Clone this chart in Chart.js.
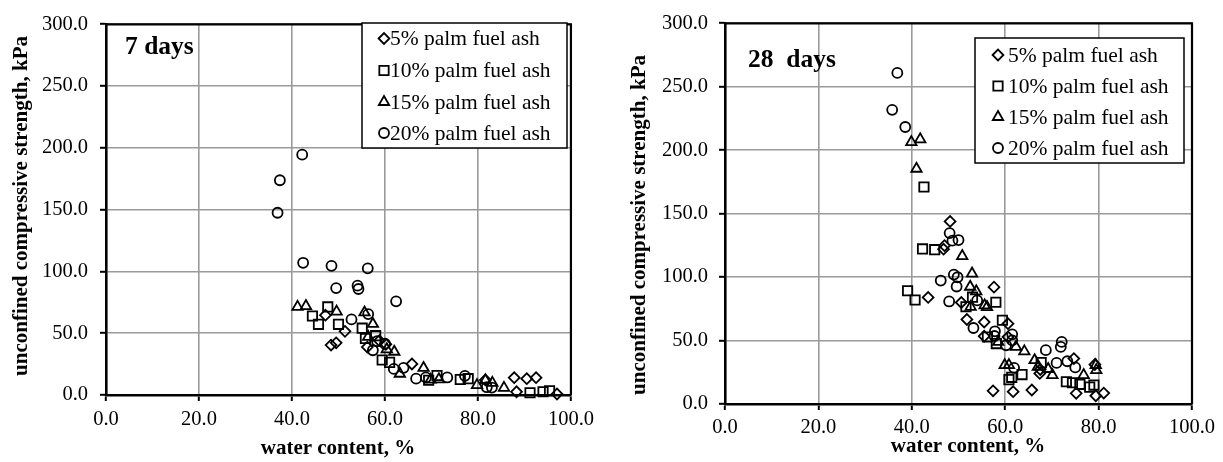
<!DOCTYPE html>
<html>
<head>
<meta charset="utf-8">
<script src="https://cdn.jsdelivr.net/npm/chart.js@4/dist/chart.umd.min.js"></script>
<style>
  html, body { margin: 0; padding: 0; background: #ffffff; }
  #wrap { position: relative; width: 1223px; height: 462px; overflow: hidden; }
  canvas { position: absolute; top: 0; }
  #c7 { left: 0; }
  #c28 { left: 600px; }
</style>
</head>
<body>
<div id="wrap">
  <canvas id="c7" width="600" height="462"></canvas>
  <canvas id="c28" width="623" height="462"></canvas>
</div>
<script>
// ---- series labels ----
const seriesNames = ['5% palm fuel ash', '10% palm fuel ash', '15% palm fuel ash', '20% palm fuel ash'];
const xTicks = [0, 20, 40, 60, 80, 100];
const yTicks = [0, 50, 100, 150, 200, 250, 300];

// ---- 7 days: water content (%) and unconfined compressive strength (kPa) ----
const wc5_7  = [47.2, 48.4, 49.5, 51.4, 56.2, 58.8, 60.2, 65.8, 81.6, 87.8, 88.3, 90.5, 92.5, 97.0];
const ucs5_7 = [64.6, 40.4, 42.2, 51.5, 38.8, 44.0, 41.0, 25.1, 12.2, 14.0, 2.6, 13.2, 14.0, 0.8];

const wc10_7  = [44.4, 45.7, 47.7, 50.0, 55.1, 55.8, 58.0, 59.4, 61.0, 69.4, 71.2, 76.2, 77.9, 91.2, 94.0, 95.4];
const ucs10_7 = [63.9, 57.2, 71.3, 57.2, 54.1, 45.7, 48.0, 28.3, 26.4, 11.9, 15.8, 12.5, 13.2, 1.8, 2.6, 3.4];

const wc15_7  = [41.2, 43.0, 49.6, 55.6, 57.4, 56.4, 60.4, 62.0, 63.2, 68.3, 69.8, 71.6, 79.8, 81.6, 83.1, 85.6];
const ucs15_7 = [71.3, 72.0, 67.5, 66.8, 57.5, 47.0, 37.0, 35.0, 17.2, 21.9, 12.4, 12.7, 8.0, 11.9, 9.8, 5.8];

const wc20_7  = [36.9, 37.4, 42.2, 42.4, 48.5, 49.5, 54.1, 54.3, 56.3, 62.4, 52.8, 56.4, 58.3, 57.4, 60.0, 61.9, 64.0, 66.7, 68.8, 73.4, 77.2, 81.9, 83.0];
const ucs20_7 = [147.5, 173.8, 194.5, 107.0, 104.5, 86.5, 88.5, 85.8, 102.5, 75.8, 61.2, 65.5, 43.5, 36.2, 41.5, 21.1, 22.0, 13.2, 14.2, 14.2, 15.5, 6.3, 6.0];

// ---- 28 days ----
const wc5_28  = [48.2, 47.0, 46.8, 43.5, 50.6, 51.8, 55.5, 55.5, 57.6, 57.4, 61.7, 65.7, 60.6, 60.6, 67.5, 67.4, 74.7, 75.2, 79.2, 79.4, 81.1];
const ucs5_28 = [143.9, 124.8, 122.0, 84.0, 80.0, 66.6, 64.6, 53.4, 92.1, 10.4, 9.7, 11.0, 63.3, 52.8, 27.2, 24.1, 35.8, 8.4, 31.1, 6.5, 8.6];

const wc10_28  = [42.6, 42.3, 44.9, 39.1, 40.7, 51.6, 53.0, 58.0, 59.4, 56.2, 58.1, 60.8, 61.4, 63.6, 67.7, 73.1, 74.4, 76.0, 78.1, 79.0];
const ucs10_28 = [171.0, 122.2, 121.6, 89.2, 82.0, 76.6, 84.2, 80.2, 66.0, 52.8, 47.6, 19.2, 21.0, 23.2, 32.6, 17.5, 16.7, 15.5, 13.3, 14.9];

const wc15_28  = [39.9, 41.8, 41.0, 50.8, 52.9, 52.5, 53.8, 52.6, 55.6, 56.1, 58.5, 59.9, 60.8, 62.3, 64.1, 66.3, 67.0, 69.2, 70.1, 76.8, 79.4, 79.5];
const ucs15_28 = [206.4, 208.6, 185.4, 116.6, 102.8, 92.4, 88.8, 76.5, 77.7, 76.4, 48.9, 30.6, 30.6, 45.0, 41.5, 34.5, 29.3, 27.6, 22.8, 22.8, 30.6, 26.7];

const wc20_28  = [36.9, 35.8, 38.6, 48.1, 48.7, 50.0, 46.2, 49.0, 49.8, 49.6, 48.0, 54.0, 53.2, 57.8, 57.7, 60.2, 61.5, 61.5, 61.9, 68.7, 72.1, 71.9, 71.0, 73.3, 75.0];
const ucs20_28 = [260.9, 231.8, 218.3, 134.7, 128.7, 129.2, 97.3, 102.0, 99.9, 92.6, 80.8, 81.6, 59.9, 57.3, 53.6, 46.3, 54.9, 50.2, 28.5, 42.4, 48.9, 45.0, 32.4, 33.7, 28.8];

// ---- styling ----
const SERIF = '"Liberation Serif", "Times New Roman", serif';
const markerStyles = ['rectRot', 'rect', 'triangle', 'circle'];
const markerRadius = [5.4, 6.6, 6.0, 5.0];

function pairs(xs, ys) {
  return xs.map((x, i) => ({ x: x, y: ys[i] }));
}

function makeDatasets(groups) {
  return groups.map((g, i) => ({
    label: seriesNames[i],
    data: pairs(g[0], g[1]),
    pointStyle: markerStyles[i],
    pointRadius: markerRadius[i],
    pointHoverRadius: markerRadius[i],
    pointBorderColor: '#000000',
    pointBackgroundColor: 'rgba(0,0,0,0)',
    pointBorderWidth: 1.8,
    borderColor: '#000000',
    backgroundColor: 'rgba(0,0,0,0)',
    showLine: false,
    clip: false
  }));
}

// Outline marker shapes for the legend box
function drawMarker(ctx, style, r, x, y) {
  ctx.beginPath();
  if (style === 'circle') {
    ctx.arc(x, y, r, 0, Math.PI * 2);
  } else if (style === 'rect') {
    const s = Math.SQRT1_2 * r;
    ctx.rect(x - s, y - s, 2 * s, 2 * s);
  } else if (style === 'rectRot') {
    ctx.moveTo(x - r, y); ctx.lineTo(x, y - r); ctx.lineTo(x + r, y); ctx.lineTo(x, y + r);
    ctx.closePath();
  } else if (style === 'triangle') {
    ctx.moveTo(x, y - r);
    ctx.lineTo(x + Math.sin(2 * Math.PI / 3) * r, y - Math.cos(2 * Math.PI / 3) * r);
    ctx.lineTo(x + Math.sin(4 * Math.PI / 3) * r, y - Math.cos(4 * Math.PI / 3) * r);
    ctx.closePath();
  }
  ctx.stroke();
}

// Frame, axis titles, panel label and boxed legend
const decorPlugin = {
  id: 'decor',
  afterDraw(chart, args, o) {
    const ctx = chart.ctx;
    const a = chart.chartArea;
    ctx.save();
    // top and right edges of the plot frame
    ctx.strokeStyle = '#000';
    ctx.lineWidth = 2.2;
    ctx.beginPath();
    ctx.moveTo(a.left, a.top);
    ctx.lineTo(a.right, a.top);
    ctx.lineTo(a.right, a.bottom);
    ctx.stroke();

    ctx.fillStyle = '#000';
    // y axis title
    ctx.font = 'bold ' + o.titleSize + 'px ' + SERIF;
    ctx.textAlign = 'center';
    ctx.textBaseline = 'middle';
    ctx.save();
    ctx.translate(o.yTitle.x, o.yTitle.y);
    ctx.rotate(-Math.PI / 2);
    ctx.fillText('unconfined compressive strength, kPa', 0, 0);
    ctx.restore();
    // x axis title
    ctx.fillText('water content, %', o.xTitle.x, o.xTitle.y);
    // panel label
    ctx.font = 'bold ' + o.panelSize + 'px ' + SERIF;
    ctx.textAlign = 'left';
    ctx.fillText(o.panel.text, o.panel.x, o.panel.y);

    // legend box
    const L = o.legend;
    ctx.fillStyle = '#fff';
    ctx.fillRect(L.x, L.y, L.w, L.h);
    ctx.strokeStyle = '#000';
    ctx.lineWidth = 1.5;
    ctx.strokeRect(L.x, L.y, L.w, L.h);
    ctx.font = L.size + 'px ' + SERIF;
    ctx.fillStyle = '#000';
    ctx.textAlign = 'left';
    ctx.textBaseline = 'middle';
    chart.data.datasets.forEach((ds, i) => {
      const ry = L.rows[i];
      ctx.lineWidth = 1.8;
      drawMarker(ctx, ds.pointStyle, ds.pointRadius, L.markerX, ry);
      ctx.fillText(ds.label, L.textX, ry + 1);
    });
    ctx.restore();
  }
};

function makeChart(id, datasets, geo, decor) {
  return new Chart(document.getElementById(id), {
    type: 'scatter',
    data: { datasets: datasets },
    options: {
      responsive: false,
      animation: false,
      layout: { padding: { left: 0, top: geo.top, right: geo.right, bottom: 0 } },
      plugins: {
        legend: { display: false },
        tooltip: { enabled: false },
        decor: decor
      },
      scales: {
        x: {
          type: 'linear',
          min: 0, max: 100,
          afterFit(scale) { scale.height = geo.xHeight; },
          afterBuildTicks(scale) { scale.ticks = xTicks.map(v => ({ value: v })); },
          ticks: {
            callback: v => Number(v).toFixed(1),
            color: '#000',
            font: { family: SERIF, size: 20.5 },
            padding: geo.xPad,
            maxRotation: 0
          },
          grid: {
            color: '#9a9a9a', lineWidth: 1.6,
            tickColor: '#000', tickLength: 6, tickWidth: 2
          },
          border: { color: '#000', width: 2.6 }
        },
        y: {
          type: 'linear',
          min: 0, max: 300,
          afterFit(scale) { scale.width = geo.yWidth; },
          afterBuildTicks(scale) { scale.ticks = yTicks.map(v => ({ value: v })); },
          ticks: {
            callback: v => Number(v).toFixed(1),
            color: '#000',
            font: { family: SERIF, size: 20.5 },
            padding: geo.yPad
          },
          grid: {
            color: '#9a9a9a', lineWidth: 1.6,
            tickColor: '#000', tickLength: 6, tickWidth: 2
          },
          border: { color: '#000', width: 2.6 }
        }
      }
    },
    plugins: [decorPlugin]
  });
}

makeChart('c7',
  makeDatasets([[wc5_7, ucs5_7], [wc10_7, ucs10_7], [wc15_7, ucs15_7], [wc20_7, ucs20_7]]),
  { top: 16, right: 27, xHeight: 67, yWidth: 106, xPad: 6, yPad: 12 },
  {
    titleSize: 21,
    yTitle: { x: 22, y: 206 },
    xTitle: { x: 338, y: 449 },
    panel: { text: '7 days', x: 125, y: 47 }, panelSize: 25.5,
    legend: { x: 362, y: 23, w: 205, h: 125, rows: [38.5, 70.5, 102, 133], markerX: 384, textX: 390, size: 21.5 }
  });

makeChart('c28',
  makeDatasets([[wc5_28, ucs5_28], [wc10_28, ucs10_28], [wc15_28, ucs15_28], [wc20_28, ucs20_28]]),
  { top: 22, right: 31, xHeight: 58, yWidth: 125, xPad: 5, yPad: 11 },
  {
    titleSize: 21,
    yTitle: { x: 40, y: 225 },
    xTitle: { x: 368, y: 447 },
    panel: { text: '28  days', x: 148, y: 60 }, panelSize: 25.5,
    legend: { x: 375, y: 38, w: 209, h: 125, rows: [55, 86, 117, 148], markerX: 398, textX: 408, size: 21.5 }
  });
</script>
</body>
</html>
